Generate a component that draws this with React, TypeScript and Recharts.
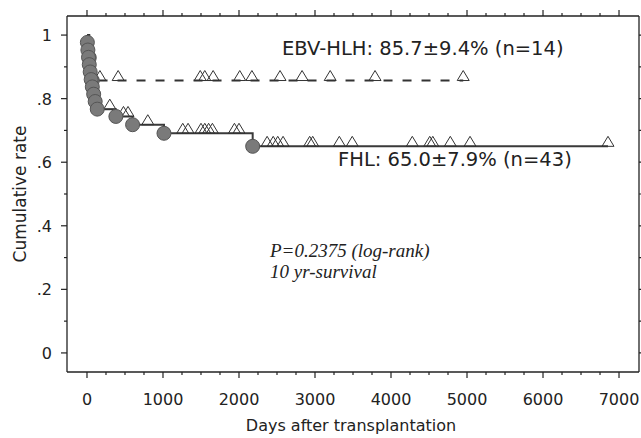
import React from "react";
import { ComposedChart, Line, Scatter, XAxis, YAxis } from "recharts";

const W = 641;
const H = 438;
const INK = "#222";
const SANS = "'DejaVu Sans', Verdana, sans-serif";
const SERIF = "'Liberation Serif', 'Times New Roman', serif";

// FHL Kaplan-Meier steps (days after transplantation, cumulative rate)
const fhlDays = [0, 5, 12, 20, 30, 42, 55, 70, 88, 108, 135, 380, 600, 1013, 2180, 6855];
const fhlRate = [1, 0.977, 0.953, 0.93, 0.907, 0.884, 0.86, 0.837, 0.814, 0.791, 0.767, 0.744, 0.718, 0.691, 0.65, 0.65];

// FHL censored cases (open triangles)
const fhlCensDays = [
  300, 480, 540, 800, 1260, 1330, 1500, 1550, 1600, 1650, 1940, 2000, 2370, 2450,
  2510, 2580, 2930, 2970, 3320, 3490, 4280, 4510, 4550, 4780, 5040, 6855,
];
const fhlCensRate = [
  0.767, 0.744, 0.744, 0.718, 0.691, 0.691, 0.691, 0.691, 0.691, 0.691, 0.691, 0.691, 0.65, 0.65,
  0.65, 0.65, 0.65, 0.65, 0.65, 0.65, 0.65, 0.65, 0.65, 0.65, 0.65, 0.65,
];

// EBV-HLH steps
const ebvDays = [0, 30, 70, 4950];
const ebvRate = [1, 0.929, 0.857, 0.857];

const ebvCensDays = [170, 410, 1490, 1550, 1660, 2010, 2170, 2540, 2830, 3200, 3790, 4950];
const ebvCensRate = [0.857, 0.857, 0.857, 0.857, 0.857, 0.857, 0.857, 0.857, 0.857, 0.857, 0.857, 0.857];

const xTickLabels = ["0", "1000", "2000", "3000", "4000", "5000", "6000", "7000"];
const yMajor = [0, 0.2, 0.4, 0.6, 0.8, 1];
const yTickLabels = ["0", ".2", ".4", ".6", ".8", "1"];

const xTicks = Array.from({ length: 29 }, (_, i) => i * 250);
const yTicks = Array.from({ length: 11 }, (_, i) => i / 10);

const toRows = (days: number[], rate: number[]) => days.map((t, i) => ({ t, s: rate[i] }));

const fhlSteps = toRows(fhlDays, fhlRate);
const fhlEvents = fhlSteps.slice(1, -1);
const fhlCens = toRows(fhlCensDays, fhlCensRate);
const ebvSteps = toRows(ebvDays, ebvRate);
const ebvEvents = ebvSteps.slice(1, -1);
const ebvCens = toRows(ebvCensDays, ebvCensRate);

const isXMajor = (v: number) => v % 1000 === 0;
const yMajorIndex = (v: number) => yMajor.findIndex((m) => Math.abs(m - v) < 1e-6);

function BottomTick({ x, y, payload }: any) {
  const major = isXMajor(payload.value);
  return (
    <g>
      <line x1={x} x2={x} y1={y} y2={y + (major ? 6 : 3)} stroke={INK} strokeWidth={1.2} />
      {major && (
        <text x={x} y={y + 33} textAnchor="middle" fontFamily={SANS} fontSize={16} fill={INK}>
          {xTickLabels[payload.value / 1000]}
        </text>
      )}
    </g>
  );
}

function TopTick({ x, y, payload }: any) {
  const major = isXMajor(payload.value);
  return <line x1={x} x2={x} y1={y} y2={y - (major ? 6 : 3)} stroke={INK} strokeWidth={1.2} />;
}

function LeftTick({ x, y, payload }: any) {
  const idx = yMajorIndex(payload.value);
  return (
    <g>
      <line x1={x} x2={x - (idx >= 0 ? 6 : 3)} y1={y} y2={y} stroke={INK} strokeWidth={1.2} />
      {idx >= 0 && (
        <text x={x - 15} y={y + 6} textAnchor="end" fontFamily={SANS} fontSize={16} fill={INK}>
          {yTickLabels[idx]}
        </text>
      )}
    </g>
  );
}

function RightTick({ x, y, payload }: any) {
  const major = yMajorIndex(payload.value) >= 0;
  return <line x1={x} x2={x + (major ? 6 : 3)} y1={y} y2={y} stroke={INK} strokeWidth={1.2} />;
}

function Triangle({ cx, cy }: any) {
  if (cx == null || cy == null) return null;
  return (
    <polygon
      points={`${cx - 6},${cy} ${cx + 6},${cy} ${cx},${cy - 10}`}
      fill="none"
      stroke="#333"
      strokeWidth={1}
    />
  );
}

function Dot({ cx, cy }: any) {
  if (cx == null || cy == null) return null;
  return <circle cx={cx} cy={cy} r={7} fill="#7a7a7a" stroke="#555" strokeWidth={1} />;
}

const axisLine = { stroke: INK, strokeWidth: 1.3 };

export default function App() {
  return (
    <div style={{ position: "absolute", left: 0, top: 0, width: W, height: H, background: "#fff" }}>
      <ComposedChart width={W} height={H} margin={{ top: 0, right: 0, bottom: 0, left: 0 }}>
        <XAxis
          xAxisId="b"
          dataKey="t"
          type="number"
          orientation="bottom"
          domain={[-263, 7263]}
          allowDataOverflow
          ticks={xTicks}
          interval={0}
          height={66}
          tickSize={0}
          tickMargin={0}
          tickLine={false}
          axisLine={axisLine}
          tick={<BottomTick />}
        />
        <XAxis
          xAxisId="t"
          dataKey="t"
          type="number"
          orientation="top"
          domain={[-263, 7263]}
          allowDataOverflow
          ticks={xTicks}
          interval={0}
          height={16}
          tickSize={0}
          tickMargin={0}
          tickLine={false}
          axisLine={axisLine}
          tick={<TopTick />}
        />
        <YAxis
          yAxisId="l"
          type="number"
          orientation="left"
          domain={[-0.06, 1.06]}
          allowDataOverflow
          ticks={yTicks}
          interval={0}
          width={67}
          tickSize={0}
          tickMargin={0}
          tickLine={false}
          axisLine={axisLine}
          tick={<LeftTick />}
        />
        <YAxis
          yAxisId="r"
          type="number"
          orientation="right"
          domain={[-0.06, 1.06]}
          allowDataOverflow
          ticks={yTicks}
          interval={0}
          width={2}
          tickSize={0}
          tickMargin={0}
          tickLine={false}
          axisLine={axisLine}
          tick={<RightTick />}
        />

        <Line
          xAxisId="b"
          yAxisId="l"
          data={ebvSteps}
          dataKey="s"
          type="stepAfter"
          stroke="#333"
          strokeWidth={2}
          strokeDasharray="9 10"
          dot={false}
          activeDot={false}
          isAnimationActive={false}
        />
        <Line
          xAxisId="b"
          yAxisId="l"
          data={fhlSteps}
          dataKey="s"
          type="stepAfter"
          stroke="#3a3a3a"
          strokeWidth={2}
          dot={false}
          activeDot={false}
          isAnimationActive={false}
        />
        <Scatter xAxisId="b" yAxisId="l" data={ebvCens} dataKey="s" shape={<Triangle />} isAnimationActive={false} />
        <Scatter xAxisId="b" yAxisId="l" data={fhlCens} dataKey="s" shape={<Triangle />} isAnimationActive={false} />
        <Scatter xAxisId="b" yAxisId="l" data={ebvEvents} dataKey="s" shape={<Dot />} isAnimationActive={false} />
        <Scatter xAxisId="b" yAxisId="l" data={fhlEvents} dataKey="s" shape={<Dot />} isAnimationActive={false} />
      </ComposedChart>

      <svg
        width={W}
        height={H}
        style={{ position: "absolute", left: 0, top: 0, pointerEvents: "none" }}
      >
        <text x={282} y={55} fontFamily={SANS} fontSize={19.5} fill={INK}>
          EBV-HLH: 85.7±9.4% (n=14)
        </text>
        <text x={338} y={166} fontFamily={SANS} fontSize={19.5} fill={INK}>
          FHL: 65.0±7.9% (n=43)
        </text>
        <text x={270} y={257} fontFamily={SERIF} fontStyle="italic" fontSize={19} fill={INK}>
          P=0.2375 (log-rank)
        </text>
        <text x={270} y={278} fontFamily={SERIF} fontStyle="italic" fontSize={19} fill={INK}>
          10 yr-survival
        </text>
        <text x={351} y={431} textAnchor="middle" fontFamily={SANS} fontSize={16} fill={INK}>
          Days after transplantation
        </text>
        <text
          x={0}
          y={0}
          transform="translate(26,194) rotate(-90)"
          textAnchor="middle"
          fontFamily={SANS}
          fontSize={17}
          fill={INK}
        >
          Cumulative rate
        </text>
      </svg>
    </div>
  );
}
